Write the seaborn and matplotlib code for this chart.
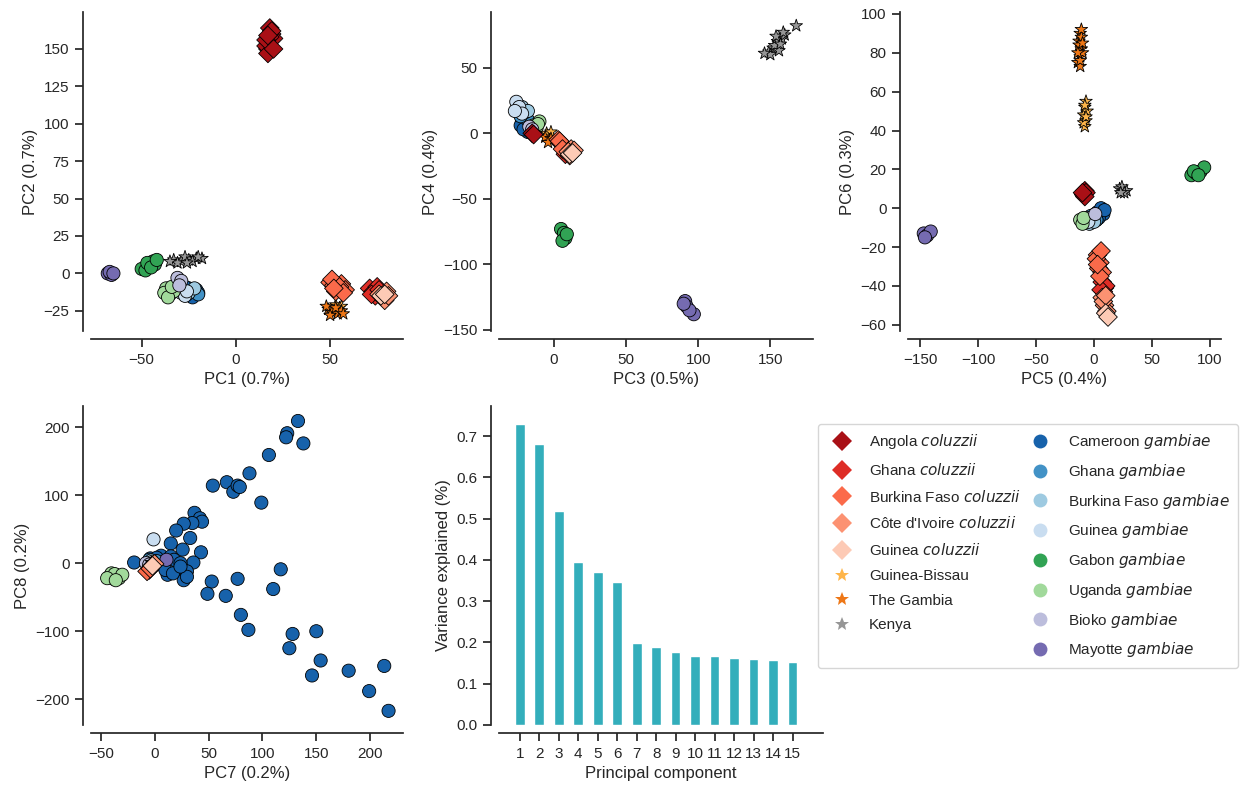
import matplotlib
matplotlib.use("Agg")
import matplotlib.pyplot as plt
from matplotlib.lines import Line2D
from matplotlib.ticker import MultipleLocator
import pandas as pd
import seaborn as sns

# ---------------------------------------------------------------- populations
populations = [
    "Angola coluzzii", "Ghana coluzzii", "Burkina Faso coluzzii",
    "Côte d'Ivoire coluzzii", "Guinea coluzzii",
    "Guinea-Bissau", "The Gambia", "Kenya",
    "Cameroon gambiae", "Ghana gambiae", "Burkina Faso gambiae",
    "Guinea gambiae", "Gabon gambiae", "Uganda gambiae",
    "Bioko gambiae", "Mayotte gambiae",
]
legend_labels = [
    r"Angola $\it{coluzzii}$", r"Ghana $\it{coluzzii}$",
    r"Burkina Faso $\it{coluzzii}$", r"Côte d'Ivoire $\it{coluzzii}$",
    r"Guinea $\it{coluzzii}$",
    "Guinea-Bissau", "The Gambia", "Kenya",
    r"Cameroon $\it{gambiae}$", r"Ghana $\it{gambiae}$",
    r"Burkina Faso $\it{gambiae}$", r"Guinea $\it{gambiae}$",
    r"Gabon $\it{gambiae}$", r"Uganda $\it{gambiae}$",
    r"Bioko $\it{gambiae}$", r"Mayotte $\it{gambiae}$",
]
population_colors = [
    "#a91016", "#de2d26", "#fb6a4a", "#fc9272", "#fdcab5",
    "#feb54a", "#ee7716", "#969696",
    "#1762ab", "#4292c6", "#9ecae1", "#c9ddf0",
    "#31a354", "#a1d99b", "#bcbddc", "#756bb1",
]
population_markers = ["D"] * 5 + ["*"] * 3 + ["o"] * 8

# gambiae drawn first, then the unassigned samples, then coluzzii
draw_order = populations[8:] + populations[5:8] + populations[:5]

# ------------------------------------------------------- variance explained
components = list(range(1, 16))
variance_explained = [0.729, 0.680, 0.518, 0.395, 0.370, 0.347, 0.198, 0.188,
                      0.178, 0.168, 0.168, 0.163, 0.161, 0.158, 0.153]

# ------------------------------------------------------------ PC coordinates
pc1_pc2 = {
    "Angola coluzzii": [(17, 150), (18, 155), (19, 160), (18, 164), (16, 152),
                        (20, 157), (17, 147), (18, 158), (19, 162), (16, 156),
                        (20, 150), (17, 159)],
    "Ghana coluzzii": [(71, -10), (73, -12), (75, -9), (74, -15), (77, -13),
                       (72, -14), (76, -11)],
    "Burkina Faso coluzzii": [(50, -6), (52, -8), (54, -10), (56, -7),
                              (53, -12), (58, -11), (51, -4), (55, -9),
                              (57, -13), (52, -10)],
    "Côte d'Ivoire coluzzii": [(76, -14), (78, -16), (80, -12), (79, -18),
                               (81, -15)],
    "Guinea coluzzii": [(77, -15), (79, -14)],
    "Guinea-Bissau": [(53, -21), (55, -23), (52, -25), (56, -22)],
    "The Gambia": [(49, -24), (51, -26), (54, -27), (48, -22), (56, -25),
                   (50, -28), (53, -23), (57, -27)],
    "Kenya": [(-33, 9), (-29, 8), (-25, 9), (-21, 10), (-18, 10), (-27, 11),
              (-31, 7), (-23, 8), (-35, 8), (-26, 7), (-20, 11)],
    "Cameroon gambiae": [(-28, -12), (-25, -10), (-22, -13), (-24, -15),
                         (-21, -11), (-27, -9), (-23, -16), (-20, -13)],
    "Ghana gambiae": [(-23, -12), (-20, -14), (-26, -14)],
    "Burkina Faso gambiae": [(-25, -13), (-22, -10)],
    "Guinea gambiae": [(-29, -13), (-27, -15), (-26, -12)],
    "Gabon gambiae": [(-50, 3), (-46, 5), (-44, 8), (-48, 2), (-43, 6),
                      (-47, 7), (-45, 4), (-42, 9)],
    "Uganda gambiae": [(-37, -10), (-35, -14), (-33, -12), (-38, -13),
                       (-36, -16), (-34, -9)],
    "Bioko gambiae": [(-31, -3), (-29, -5), (-30, -8)],
    "Mayotte gambiae": [(-68, 0), (-66, -1), (-67, 1), (-65, 0)],
}

pc3_pc4 = {
    "Angola coluzzii": [(-15, 0), (-14, -1)],
    "Ghana coluzzii": [(9, -12), (11, -15), (8, -16)],
    "Burkina Faso coluzzii": [(3, -5), (5, -8), (7, -10), (4, -6), (6, -12)],
    "Côte d'Ivoire coluzzii": [(12, -12), (14, -13), (10, -14), (11, -17)],
    "Guinea coluzzii": [(11, -16), (13, -15)],
    "Guinea-Bissau": [(-4, -2), (-5, 0), (-2, 1)],
    "The Gambia": [(-3, -5), (-6, -3), (-2, -4), (-4, -7)],
    "Kenya": [(149, 62), (152, 65), (155, 70), (158, 72), (153, 67),
              (160, 75), (168, 82), (150, 60), (156, 63), (157, 68),
              (146, 61), (154, 74), (159, 77)],
    "Cameroon gambiae": [(-20, 8), (-17, 4), (-15, 2), (-22, 10), (-16, 6),
                         (-19, 12), (-23, 6), (-18, 1), (-21, 3)],
    "Ghana gambiae": [(-20, 14), (-18, 10), (-23, 13)],
    "Burkina Faso gambiae": [(-22, 20), (-20, 16), (-24, 18), (-18, 17)],
    "Guinea gambiae": [(-26, 24), (-24, 20), (-22, 15), (-27, 17)],
    "Gabon gambiae": [(5, -73), (7, -76), (8, -80), (6, -82), (9, -77)],
    "Uganda gambiae": [(-14, 6), (-10, 9), (-12, 4), (-11, 7)],
    "Bioko gambiae": [(-17, 5), (-15, 3)],
    "Mayotte gambiae": [(91, -128), (92, -132), (97, -138), (94, -135),
                        (90, -130)],
}

pc5_pc6 = {
    "Angola coluzzii": [(-9, 7), (-8, 9), (-7, 8), (-8, 6), (-10, 8)],
    "Ghana coluzzii": [(7, -38), (9, -41), (8, -43), (10, -40), (6, -42)],
    "Burkina Faso coluzzii": [(3, -24), (5, -28), (4, -31), (7, -33),
                              (2, -26), (6, -22), (5, -35), (3, -29)],
    "Côte d'Ivoire coluzzii": [(7, -46), (9, -50), (11, -53), (8, -48),
                               (10, -45)],
    "Guinea coluzzii": [(10, -54), (12, -56)],
    "Guinea-Bissau": [(-7, 55), (-8, 52), (-9, 48), (-7, 45), (-8, 42),
                      (-6, 50), (-9, 44), (-7, 47), (-8, 53)],
    "The Gambia": [(-12, 90), (-13, 86), (-11, 82), (-12, 78), (-14, 75),
                   (-10, 80), (-12, 73), (-11, 88), (-13, 84), (-12, 76),
                   (-11, 92), (-14, 80), (-10, 85)],
    "Kenya": [(22, 10), (25, 9), (28, 9), (24, 11), (26, 8), (23, 8)],
    "Cameroon gambiae": [(3, -2), (6, -2), (8, -3), (4, -5), (1, -3), (6, 0),
                         (9, -1), (2, -6)],
    "Ghana gambiae": [(-3, -4), (2, -6)],
    "Burkina Faso gambiae": [(-4, -8), (0, -7)],
    "Guinea gambiae": [(-6, -5), (-5, -7)],
    "Gabon gambiae": [(84, 17), (88, 18), (92, 19), (95, 21), (86, 19),
                      (90, 17)],
    "Uganda gambiae": [(-12, -6), (-10, -8), (-9, -5)],
    "Bioko gambiae": [(1, -3)],
    "Mayotte gambiae": [(-147, -13), (-144, -14), (-141, -12), (-146, -15)],
}

pc7_pc8 = {
    "Angola coluzzii": [(-3, -5)],
    "Ghana coluzzii": [(-5, -10)],
    "Burkina Faso coluzzii": [(-7, -12), (-4, -8)],
    "Côte d'Ivoire coluzzii": [(0, -1)],
    "Guinea coluzzii": [(-2, -4)],
    "Guinea-Bissau": [(-2, 0)],
    "The Gambia": [(-1, -2)],
    "Kenya": [(-3, 1)],
    "Cameroon gambiae": [
        (133, 209), (123, 191), (122, 185), (138, 176), (106, 159), (88, 132),
        (54, 114), (67, 119), (73, 105), (77, 114), (79, 112), (99, 89),
        (37, 74), (42, 66), (44, 61), (35, 59), (27, 58), (20, 48), (33, 37),
        (15, 29), (26, 20), (43, 16), (36, 1), (-19, 1), (21, -12), (30, -12),
        (12, -17), (27, -25), (53, -27), (49, -45), (66, -48), (77, -23),
        (117, -9), (110, -38), (80, -76), (87, -98), (128, -104), (150, -100),
        (125, -125), (154, -143), (146, -165), (180, -158), (213, -151),
        (199, -188), (217, -217), (-4, 7), (6, 11), (15, 10), (18, 5),
        (24, 0), (9, -5), (2, 8), (10, -10), (17, -15), (30, -20), (24, -5),
    ],
    "Ghana gambiae": [(-5, 5), (2, 3)],
    "Burkina Faso gambiae": [(-3, 4)],
    "Guinea gambiae": [(-1, 35), (-2, 2)],
    "Gabon gambiae": [(-1, 0)],
    "Uganda gambiae": [(-42, -20), (-38, -23), (-35, -18), (-40, -15),
                       (-33, -22), (-37, -16), (-30, -17), (-44, -22),
                       (-36, -25)],
    "Bioko gambiae": [(-8, 0), (-5, -2)],
    "Mayotte gambiae": [(11, 5)],
}

# ------------------------------------------------------------------- styling
sns.set_theme(style="ticks")
plt.rcParams["font.family"] = ["Liberation Sans", "DejaVu Sans"]
plt.rcParams.update({
    "xtick.labelsize": 11,
    "ytick.labelsize": 11,
    "axes.labelsize": 12,
    "legend.fontsize": 11,
})

palette = dict(zip(populations, population_colors))
markers = dict(zip(populations, population_markers))
pc_labels = [f"PC{i} ({v:.1f}%)" for i, v in zip(components, variance_explained)]

W, H = 1240, 789
fig = plt.figure(figsize=(W / 100, H / 100), dpi=100)


def add_axes(x0, x1, y0, y1):
    return fig.add_axes([x0 / W, 1 - y1 / H, (x1 - x0) / W, (y1 - y0) / H])


def scatter_panel(ax, coords, xi, yi, xlim, ylim, xstep, ystep):
    rows = [(pop, x, y) for pop in draw_order for (x, y) in coords.get(pop, [])]
    df = pd.DataFrame(rows, columns=["population", "x", "y"])
    sns.scatterplot(data=df, x="x", y="y", hue="population",
                    style="population", palette=palette, markers=markers,
                    s=90, edgecolor="black", linewidth=0.6, legend=False,
                    ax=ax, zorder=3)
    ax.set_xlim(*xlim)
    ax.set_ylim(*ylim)
    ax.xaxis.set_major_locator(MultipleLocator(xstep))
    ax.yaxis.set_major_locator(MultipleLocator(ystep))
    ax.set_xlabel(pc_labels[xi])
    ax.set_ylabel(pc_labels[yi])
    sns.despine(ax=ax, offset=6)


ax1 = add_axes(91, 403, 12, 331)
scatter_panel(ax1, pc1_pc2, 0, 1, (-76.9, 88.7), (-38.5, 174.7), 50, 25)

ax2 = add_axes(499, 813, 12, 331)
scatter_panel(ax2, pc3_pc4, 2, 3, (-38, 179.6), (-150.8, 92.5), 50, 50)

ax3 = add_axes(908, 1221, 12, 331)
scatter_panel(ax3, pc5_pc6, 4, 5, (-160.6, 109.5), (-63.2, 101), 50, 20)

ax4 = add_axes(91, 403, 406, 725)
scatter_panel(ax4, pc7_pc8, 6, 7, (-59, 230.4), (-237.8, 231), 50, 100)

# variance explained by each component
ax5 = add_axes(499, 823, 406, 725)
sns.barplot(x=components, y=variance_explained, color="#33aebb",
            saturation=1, width=0.5, ax=ax5)
ax5.set_xlim(-1.06, 15.56)
ax5.set_ylim(0, 0.773)
ax5.set_xlabel("Principal component")
ax5.set_ylabel("Variance explained (%)")
sns.despine(ax=ax5, offset=6)

# legend for all populations
handles = [
    Line2D([], [], linestyle="none", marker=m, color=c, markeredgewidth=0,
           markersize=10)
    for m, c in zip(population_markers, population_colors)
]
fig.legend(handles, legend_labels, ncol=2, loc="upper left",
           bbox_to_anchor=(818 / W, 1 - 424 / H), borderaxespad=0,
           borderpad=0.55, columnspacing=0.25, labelspacing=0.7,
           frameon=True)

fig.savefig("out.png", dpi=100)
